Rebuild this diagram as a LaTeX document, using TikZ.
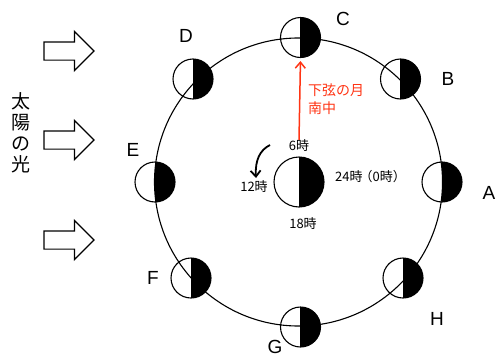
\documentclass[tikz,border=0pt]{standalone}
\usepackage{fontspec}
\setmainfont{Noto Sans CJK JP}
\newfontfamily\latinfont{Liberation Sans}
\usetikzlibrary{arrows.meta,shapes.arrows}
\definecolor{southred}{HTML}{FF3414}

\begin{document}
\begin{tikzpicture}[x=1pt,y=-1pt,>={Straight Barb[length=6pt,width=10pt]},
 moon/.style={circle,draw,line width=1.1pt,inner sep=0pt,minimum size=40pt,
  path picture={\fill[black] (path picture bounding box.north) rectangle (path picture bounding box.south east);
   \draw[line width=.9pt] (path picture bounding box.north) -- (path picture bounding box.south);}},
 sun/.style={single arrow,draw,line width=1.2pt,inner sep=0pt,text height=17pt,text depth=0pt,minimum height=50pt,minimum width=38pt,single arrow head extend=10.5pt},
 letter/.style={font=\latinfont\fontsize{19}{19}\selectfont,inner sep=0pt},
 hour/.style={font=\fontsize{13}{13}\selectfont,inner sep=0pt}]
\useasboundingbox (0,0) rectangle (497,356);

% orbit goes under the moons, it stays visible through the open halves
\node[circle,draw,line width=1.1pt,inner sep=0pt,minimum size=288pt] (orbit) at (298.5,182) {};

\node[moon] (ma) at (442,182) {};
\node[moon] (mb) at (400.5,79) {};
\node[moon] (mc) at (300.5,37.5) {};
\node[moon] (md) at (193,79) {};
\node[moon] (me) at (155,182) {};
\node[moon] (mf) at (191,278) {};
\node[moon] (mg) at (300.5,327) {};
\node[moon] (mh) at (403,278) {};
\node[moon,minimum size=50pt] (earth) at (299,182) {};

\node[letter] (la) at (489,193) {A};
\node[letter] (lb) at (448,79) {B};
\node[letter] (lc) at (343,19) {C};
\node[letter] (ld) at (186,36) {D};
\node[letter] (le) at (133,150) {E};
\node[letter] (lf) at (153,278) {F};
\node[letter] (lg) at (275,347) {G};
\node[letter] (lh) at (437,319) {H};

\node[hour] (h6) at (299,146) {6時};
\node[hour] (h12) at (254,187) {12時};
\node[hour] (h18) at (303,224) {18時};
\node[hour,anchor=west] (h24) at (335,177) {24時\kern-3pt（0時）};

% red line from the 6 o'clock label up to moon C
\draw[->,southred,line width=1.5pt,shorten >=3pt] (h6.north) -- (mc.south);
\node[font=\fontsize{14}{18}\selectfont,text=southred,align=left,inner sep=0pt,anchor=north west] (south) at (308,84) {下弦の月\\南中};

\coordinate (turn0) at (270,145);
\coordinate (turn1) at (256,178);
\draw[->,line width=1.8pt] (turn0) .. controls (260,150) and (255,160) .. (turn1);

\node[sun] (s1) at (64.5,51) {};
\node[sun] (s2) at (64.5,140) {};
\node[sun] (s3) at (64.5,240) {};
\node[font=\fontsize{19}{21}\selectfont,align=center,inner sep=0pt] (light) at (21,133) {太\\陽\\の\\光};
\end{tikzpicture}
\end{document}
